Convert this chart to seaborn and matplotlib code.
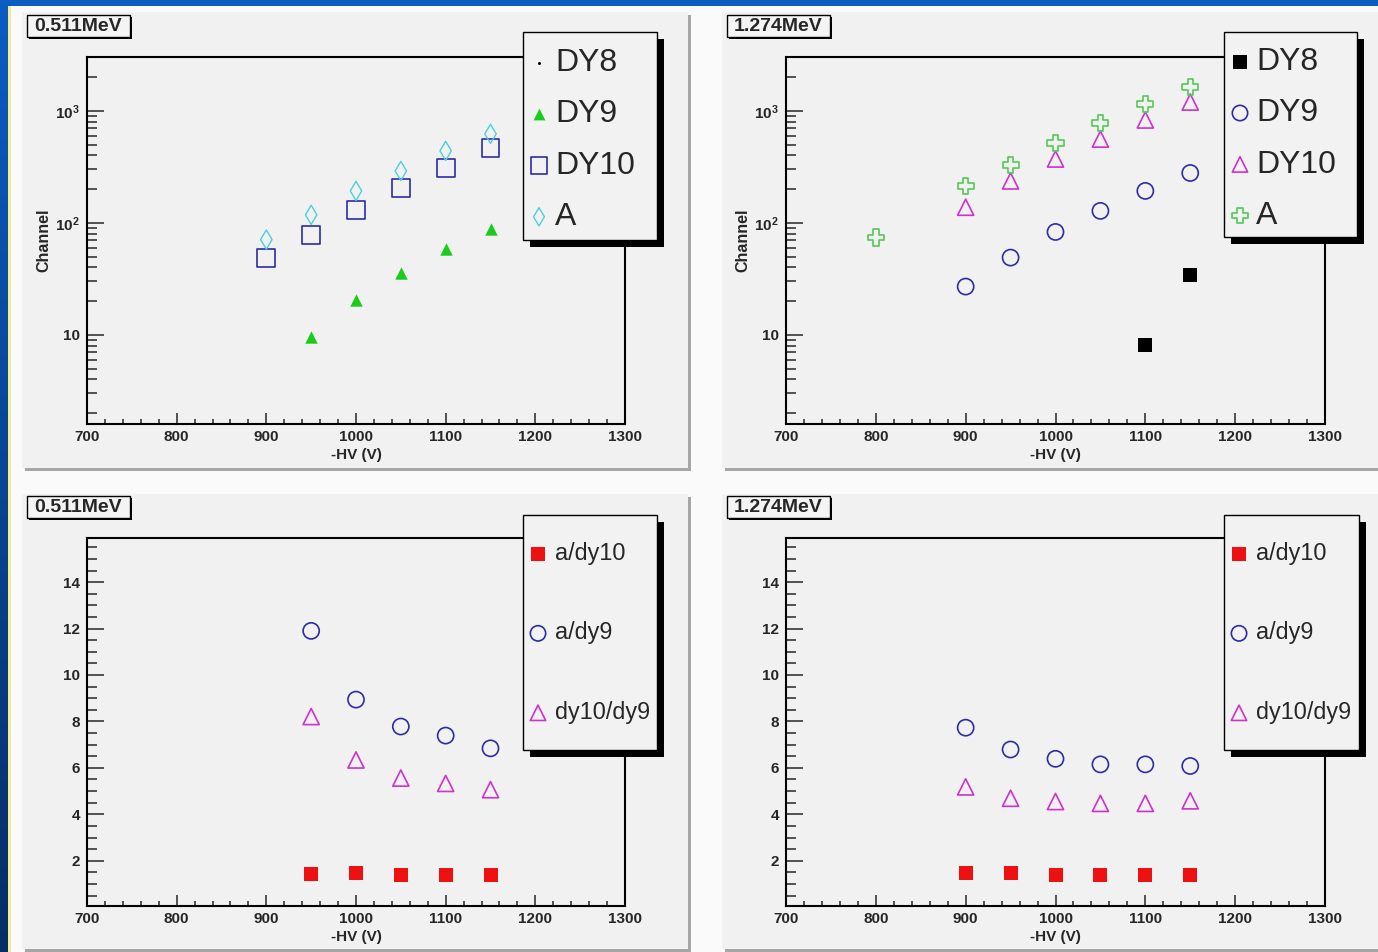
import numpy as np
import matplotlib.pyplot as plt
import matplotlib.patches as mpatches
from matplotlib.colors import LinearSegmentedColormap
from matplotlib.ticker import MultipleLocator, LogLocator, NullFormatter
import seaborn as sns

# -HV settings (V)
hv = [900, 950, 1000, 1050, 1100, 1150]
hv_from950 = [950, 1000, 1050, 1100, 1150]
hv_a_1274 = [800, 900, 950, 1000, 1050, 1100, 1150]
hv_dy8_1274 = [1100, 1150]

# 0.511 MeV peak position (channel)
dy8_511 = []
dy9_511 = [9.6, 20.5, 36, 59, 88]
dy10_511 = [49, 78, 131, 205, 310, 470]
a_511 = [71, 118, 193, 291, 440, 624]

# 1.274 MeV peak position (channel)
dy8_1274 = [8.2, 34]
dy9_1274 = [27, 49, 83, 128, 193, 279]
dy10_1274 = [138, 237, 372, 560, 830, 1200]
a_1274 = [74, 214, 330, 518, 782, 1155, 1640]

# ratios
a_dy10_511 = [1.44, 1.46, 1.38, 1.38, 1.38]
a_dy9_511 = [11.9, 8.94, 7.78, 7.39, 6.84]
dy10_dy9_511 = [8.21, 6.34, 5.56, 5.33, 5.06]

a_dy10_1274 = [1.45, 1.48, 1.38, 1.38, 1.38, 1.38]
a_dy9_1274 = [7.73, 6.79, 6.39, 6.15, 6.15, 6.08]
dy10_dy9_1274 = [5.18, 4.69, 4.55, 4.47, 4.47, 4.58]

xticks = [700, 800, 900, 1000, 1100, 1200, 1300]
log_ticks = [10, 100, 1000]
log_labels = ['10', r'$10^{2}$', r'$10^{3}$']

sns.set_style("ticks")
plt.rcParams['font.family'] = ['Liberation Sans', 'DejaVu Sans']
plt.rcParams['font.weight'] = 'bold'
plt.rcParams['mathtext.fontset'] = 'custom'
plt.rcParams['mathtext.rm'] = 'Liberation Sans:bold'
plt.rcParams['mathtext.it'] = 'Liberation Sans:bold'
plt.rcParams['mathtext.bf'] = 'Liberation Sans:bold'

W, H = 1378, 952
fig = plt.figure(figsize=(W / 100, H / 100), dpi=100)
fig.patch.set_facecolor('#0b5dbf')


def rect(x0, y0, x1, y1, **kw):
    # pixel box measured from the top-left corner
    r = mpatches.Rectangle((x0 / W, 1 - y1 / H), (x1 - x0) / W, (y1 - y0) / H,
                           transform=fig.transFigure, **kw)
    fig.add_artist(r)


def ax_box(x0, y0, x1, y1):
    return [x0 / W, 1 - y1 / H, (x1 - x0) / W, (y1 - y0) / H]


# slide background
bg = fig.add_axes([0, 0, 8 / W, 1 - 6 / H], zorder=-10)
bg.imshow(np.linspace(0, 1, 100)[:, None], aspect='auto',
          cmap=LinearSegmentedColormap.from_list('slide', ['#0b5cc0', '#062e66']))
bg.axis('off')
rect(10, 6, W, H, fc='#fafafa', lw=0, zorder=-8)
rect(8, 6, 10.5, H, fc='#f1ec98', lw=0, zorder=-8)

panels = [(22, 12, 688, 468), (722, 12, 1378, 468), (22, 494, 688, 949), (722, 494, 1378, 949)]
for x0, y0, x1, y1 in panels:
    rect(x0 + 3, y0 + 3, x1 + 3, y1 + 3, fc='#a6a6a6', lw=0, zorder=-7)
    rect(x0, y0, x1, y1, fc='#f1f1f1', lw=0, zorder=-6)


def style_axes(ax, log):
    ax.set_facecolor('none')
    ax.set_xlim(700, 1300)
    ax.set_xticks(xticks)
    ax.xaxis.set_minor_locator(MultipleLocator(20))
    if log:
        ax.set_yscale('log')
        ax.set_ylim(1.6, 3030)
        ax.set_yticks(log_ticks, labels=log_labels)
        ax.yaxis.set_minor_locator(LogLocator(base=10, subs=range(2, 10)))
        ax.yaxis.set_minor_formatter(NullFormatter())
        ax.set_ylabel('Channel', fontsize=11.5, fontweight='bold', labelpad=3)
    else:
        ax.set_ylim(0.05, 15.9)
        ax.yaxis.set_minor_locator(MultipleLocator(0.5))
        ax.set_yticks([2, 4, 6, 8, 10, 12, 14])
    ax.tick_params(axis='x', which='major', direction='in', length=8, width=1.1,
                   labelsize=11, pad=4)
    ax.tick_params(axis='x', which='minor', direction='in', length=3.6, width=1.1)
    ax.tick_params(axis='y', which='major', direction='in', length=12, width=1.1,
                   labelsize=11, pad=5)
    ax.tick_params(axis='y', which='minor', direction='in', length=7, width=1.1)
    for s in ax.spines.values():
        s.set_linewidth(1.5)
        s.set_color('black')
    ax.set_xlabel('-HV (V)', fontsize=11, fontweight='bold', labelpad=3)


def title_box(x0, y0, text):
    rect(x0 + 2, y0 + 2, x0 + 105, y0 + 24, fc='black', lw=0, zorder=4)
    rect(x0, y0, x0 + 103, y0 + 22, fc='#f4f4f4', ec='black', lw=1.0, zorder=5)
    fig.text((x0 + 51.5) / W, 1 - (y0 + 11.5) / H, text, ha='center', va='center',
             fontsize=14, fontweight='bold', zorder=6)


def legend_box(ax, x0, y0, x1, y1, size, spacing, hlen, tpad, top, scale):
    rect(x0 + 7, y0 + 7, x1 + 7, y1 + 7, fc='black', lw=0, zorder=4)
    rect(x0, y0, x1, y1, fc='#f2f2f2', ec='black', lw=1.0, zorder=5)
    handles, labels = ax.get_legend_handles_labels()
    leg = fig.legend(handles, labels, loc='upper left',
                     bbox_to_anchor=((x0 + 8) / W, 1 - top / H),
                     bbox_transform=fig.transFigure, frameon=False,
                     borderpad=0, borderaxespad=0, handlelength=hlen,
                     handletextpad=tpad, labelspacing=spacing, scatterpoints=1,
                     markerscale=scale, prop={'size': size, 'weight': 'normal'})
    leg.set_zorder(7)


blue = '#2c2ca6'
cyan = '#4ccfe0'
green = '#1ccc1c'
magenta = '#cc33cc'
lgreen = '#55c855'
red = '#ee1111'

# ---- top left: 0.511 MeV ----
ax1 = fig.add_axes(ax_box(87, 57, 625, 424))
ax1.scatter(dy8_511, dy8_511, marker='.', s=6, color='black', label='DY8')
sns.scatterplot(x=hv_from950, y=dy9_511, ax=ax1, marker='^', s=80, color=green,
                edgecolor=green, linewidth=0, label='DY9', legend=False)
sns.scatterplot(x=hv, y=dy10_511, ax=ax1, marker='s', s=165, color=blue,
                facecolor='none', edgecolor=blue, linewidth=1.2, label='DY10', legend=False)
sns.scatterplot(x=hv, y=a_511, ax=ax1, marker='d', s=95, color=cyan,
                facecolor='none', edgecolor=cyan, linewidth=1.0, label='A', legend=False)
style_axes(ax1, True)
title_box(27, 15, '0.511MeV')
legend_box(ax1, 523, 32, 657, 240, 23, 0.67, 0.5, 0.25, 48, 0.95)

# ---- top right: 1.274 MeV ----
ax2 = fig.add_axes(ax_box(786, 57, 1325, 424))
sns.scatterplot(x=hv_dy8_1274, y=dy8_1274, ax=ax2, marker='s', s=100, color='black',
                edgecolor='black', linewidth=0, label='DY8', legend=False)
sns.scatterplot(x=hv, y=dy9_1274, ax=ax2, marker='o', s=135, color=blue,
                facecolor='none', edgecolor=blue, linewidth=1.2, label='DY9', legend=False)
sns.scatterplot(x=hv, y=dy10_1274, ax=ax2, marker='^', s=135, color=magenta,
                facecolor='none', edgecolor=magenta, linewidth=1.2, label='DY10', legend=False)
sns.scatterplot(x=hv_a_1274, y=a_1274, ax=ax2, marker='P', s=135, color=lgreen,
                facecolor='none', edgecolor=lgreen, linewidth=1.2, label='A', legend=False)
style_axes(ax2, True)
title_box(727, 15, '1.274MeV')
legend_box(ax2, 1224, 32, 1357, 237, 23, 0.67, 0.5, 0.25, 47, 0.95)

# ---- bottom left: ratios 0.511 MeV ----
ax3 = fig.add_axes(ax_box(87, 538, 625, 906))
sns.scatterplot(x=hv_from950, y=a_dy10_511, ax=ax3, marker='s', s=115, color=red,
                edgecolor=red, linewidth=0, label='a/dy10', legend=False)
sns.scatterplot(x=hv_from950, y=a_dy9_511, ax=ax3, marker='o', s=135, color=blue,
                facecolor='none', edgecolor=blue, linewidth=1.2, label='a/dy9', legend=False)
sns.scatterplot(x=hv_from950, y=dy10_dy9_511, ax=ax3, marker='^', s=135, color=magenta,
                facecolor='none', edgecolor=magenta, linewidth=1.2, label='dy10/dy9',
                legend=False)
style_axes(ax3, False)
title_box(27, 496, '0.511MeV')
legend_box(ax3, 523, 515, 657, 750, 16.8, 2.42, 0.6, 0.43, 542, 0.95)

# ---- bottom right: ratios 1.274 MeV ----
ax4 = fig.add_axes(ax_box(786, 538, 1325, 906))
sns.scatterplot(x=hv, y=a_dy10_1274, ax=ax4, marker='s', s=115, color=red,
                edgecolor=red, linewidth=0, label='a/dy10', legend=False)
sns.scatterplot(x=hv, y=a_dy9_1274, ax=ax4, marker='o', s=135, color=blue,
                facecolor='none', edgecolor=blue, linewidth=1.2, label='a/dy9', legend=False)
sns.scatterplot(x=hv, y=dy10_dy9_1274, ax=ax4, marker='^', s=135, color=magenta,
                facecolor='none', edgecolor=magenta, linewidth=1.2, label='dy10/dy9',
                legend=False)
style_axes(ax4, False)
title_box(727, 496, '1.274MeV')
legend_box(ax4, 1224, 515, 1359, 750, 16.8, 2.42, 0.6, 0.43, 542, 0.95)

fig.savefig('out.png', dpi=100)
